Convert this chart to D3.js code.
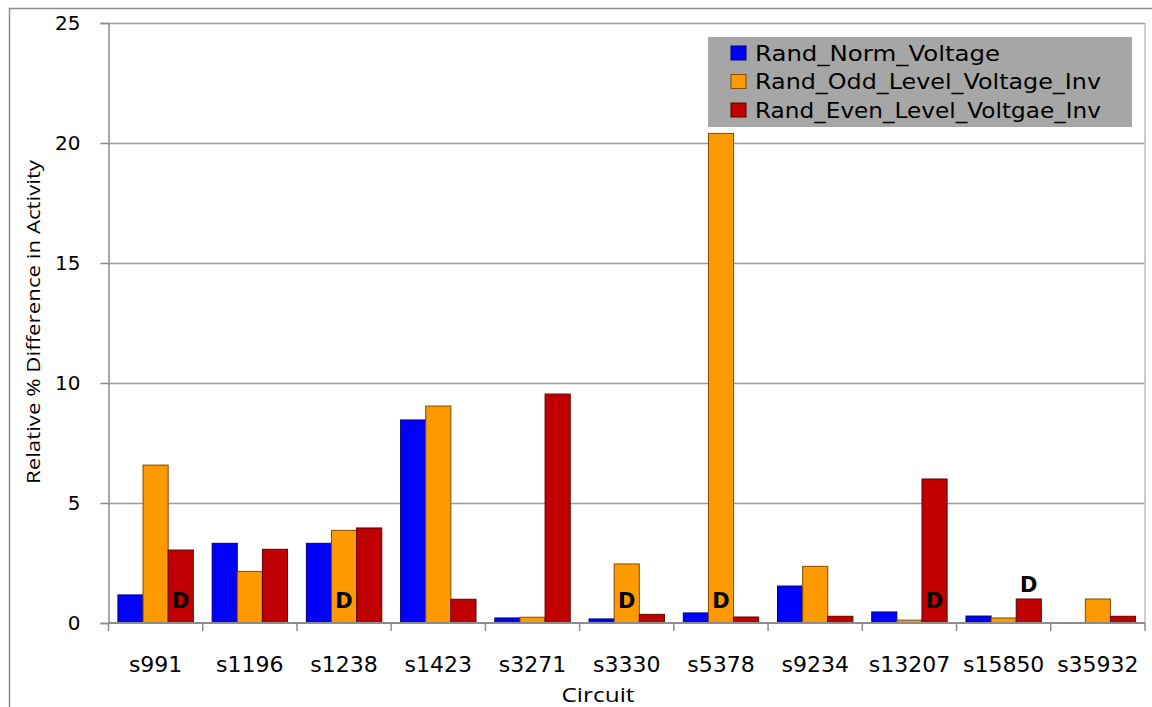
<!DOCTYPE html>
<html>
<head>
<meta charset="utf-8">
<script src="https://cdn.jsdelivr.net/npm/d3@7"></script>
<style>
  html, body { margin: 0; padding: 0; background: #fff; }
  svg { display: block; }
</style>
</head>
<body>
<svg id="chart" width="1152" height="707"></svg>
<script>
// Circuits on the x axis
const circuits = ["s991", "s1196", "s1238", "s1423", "s3271", "s3330", "s5378", "s9234", "s13207", "s15850", "s35932"];

// Series names
const seriesNames = ["Rand_Norm_Voltage", "Rand_Odd_Level_Voltage_Inv", "Rand_Even_Level_Voltgae_Inv"];

// Relative % difference in activity per circuit, one array per series
const randNormVoltage   = [1.17, 3.32, 3.32, 8.46, 0.21, 0.17, 0.42, 1.54, 0.46, 0.29, 0];
const randOddLevelInv   = [6.58, 2.15, 3.86, 9.04, 0.24, 2.46, 20.4, 2.36, 0.12, 0.21, 1.0];
const randEvenLevelInv  = [3.04, 3.07, 3.96, 0.99, 9.54, 0.36, 0.25, 0.28, 6.0, 1.0, 0.28];

// Y tick values
const yTicks = [0, 5, 10, 15, 20, 25];

// "D" markers: [circuit, series index]
const dMarks = [["s991", 2], ["s1238", 1], ["s3330", 1], ["s5378", 1], ["s13207", 2], ["s15850", 2]];

const seriesValues = [randNormVoltage, randOddLevelInv, randEvenLevelInv];
const fills   = ["#0000ff", "#ff9900", "#c00000"];
const strokes = ["#00007a", "#7f4c00", "#600000"];

const svg = d3.select("#chart");

// Outer chart frame
svg.append("rect")
  .attr("x", 9.5).attr("y", 8.5)
  .attr("width", 1160).attr("height", 720)
  .attr("fill", "none").attr("stroke", "#8c8c8c").attr("stroke-width", 1.5);

const plot = { left: 108.5, right: 1145, top: 23, bottom: 623 };

const x = d3.scaleBand()
  .domain(circuits)
  .range([plot.left, plot.right])
  .paddingInner(0).paddingOuter(0);

const barW = x.bandwidth() / (3 + 0.75);
const xs = d3.scaleBand()
  .domain(d3.range(3))
  .range([x.bandwidth() * 0.1, x.bandwidth() * 0.1 + barW * 3]);

const y = d3.scaleLinear().domain([0, 25]).range([plot.bottom, plot.top]);

// Horizontal gridlines
svg.append("g")
  .selectAll("line")
  .data(yTicks.filter(d => d > 0))
  .join("line")
  .attr("x1", plot.left).attr("x2", plot.right)
  .attr("y1", d => Math.round(y(d)) + 0.5).attr("y2", d => Math.round(y(d)) + 0.5)
  .attr("stroke", "#9e9e9e").attr("stroke-width", 1.5);

// Right border of the plot area
svg.append("line")
  .attr("x1", plot.right).attr("x2", plot.right)
  .attr("y1", y(25)).attr("y2", plot.bottom)
  .attr("stroke", "#bdbdbd").attr("stroke-width", 1.5);

// Bars
const groups = svg.append("g")
  .selectAll("g")
  .data(circuits)
  .join("g")
  .attr("transform", c => `translate(${x(c)},0)`);

groups.selectAll("rect")
  .data((c, i) => seriesValues.map((vals, s) => ({ s, v: vals[i] })))
  .join("rect")
  .filter(d => d.v > 0)
  .attr("x", d => xs(d.s))
  .attr("y", d => y(d.v))
  .attr("width", xs.bandwidth())
  .attr("height", d => y(0) - y(d.v))
  .attr("fill", d => fills[d.s])
  .attr("stroke", d => strokes[d.s])
  .attr("stroke-width", 1);

// Y axis
const yAxis = svg.append("g")
  .attr("transform", `translate(${plot.left},0)`)
  .call(d3.axisLeft(y).tickValues(yTicks).tickSize(8).tickPadding(20));
yAxis.select(".domain").attr("stroke", "#8c8c8c").attr("stroke-width", 1.5);
yAxis.selectAll(".tick line").attr("stroke", "#8c8c8c").attr("stroke-width", 1.5);
yAxis.selectAll(".tick text")
  .attr("font-family", "DejaVu Sans, Verdana, sans-serif")
  .attr("font-size", 20).attr("fill", "#000");

// X axis with ticks between categories
const xAxis = svg.append("g")
  .attr("transform", `translate(0,${plot.bottom})`);
xAxis.append("line")
  .attr("x1", plot.left).attr("x2", plot.right)
  .attr("y1", 0).attr("y2", 0)
  .attr("stroke", "#8c8c8c").attr("stroke-width", 2);
xAxis.selectAll("line.tk")
  .data(circuits.concat(["_end"]))
  .join("line")
  .attr("class", "tk")
  .attr("x1", (c, i) => i < circuits.length ? x(c) : plot.right)
  .attr("x2", (c, i) => i < circuits.length ? x(c) : plot.right)
  .attr("y1", 0).attr("y2", 8)
  .attr("stroke", "#8c8c8c").attr("stroke-width", 1.5);
xAxis.selectAll("text")
  .data(circuits)
  .join("text")
  .attr("x", c => x(c) + x.bandwidth() / 2)
  .attr("y", 49)
  .attr("text-anchor", "middle")
  .attr("font-family", "DejaVu Sans, Verdana, sans-serif")
  .attr("font-size", 22)
  .attr("fill", "#000")
  .text(c => c);

// "D" markers
svg.append("g")
  .selectAll("text")
  .data(dMarks)
  .join("text")
  .attr("x", d => x(d[0]) + xs(d[1]) + xs.bandwidth() / 2)
  .attr("y", d => {
    const v = seriesValues[d[1]][circuits.indexOf(d[0])];
    const top = y(v);
    return (y(0) - top) > 32 ? y(0) - 15 : top - 7;
  })
  .attr("text-anchor", "middle")
  .attr("font-family", "DejaVu Sans, Verdana, sans-serif")
  .attr("font-weight", "bold")
  .attr("font-size", 21)
  .attr("fill", "#000")
  .text("D");

// Axis titles
svg.append("text")
  .attr("transform", `translate(40,322) rotate(-90)`)
  .attr("text-anchor", "middle")
  .attr("font-family", "Open Sans, Liberation Sans, sans-serif")
  .attr("font-size", 19)
  .attr("textLength", 324).attr("lengthAdjust", "spacingAndGlyphs")
  .attr("fill", "#000")
  .text("Relative % Difference in Activity");

svg.append("text")
  .attr("x", 598).attr("y", 702)
  .attr("text-anchor", "middle")
  .attr("font-family", "Open Sans, Liberation Sans, sans-serif")
  .attr("font-size", 20)
  .attr("textLength", 73).attr("lengthAdjust", "spacingAndGlyphs")
  .attr("fill", "#000")
  .text("Circuit");

// Legend
const legend = svg.append("g");
legend.append("rect")
  .attr("x", 708).attr("y", 37)
  .attr("width", 424).attr("height", 90)
  .attr("fill", "#a6a6a6");
const legendRowY = d3.scalePoint().domain(d3.range(3)).range([53, 110]);
const legendLengths = [245, 346, 346];
const li = legend.selectAll("g.item")
  .data(seriesNames)
  .join("g")
  .attr("class", "item")
  .attr("transform", (d, i) => `translate(731,${legendRowY(i)})`);
li.append("rect")
  .attr("x", 0).attr("y", -7)
  .attr("width", 15).attr("height", 14)
  .attr("fill", (d, i) => fills[i])
  .attr("stroke", (d, i) => strokes[i]).attr("stroke-width", 1);
li.append("text")
  .attr("x", 24).attr("y", 7.5)
  .attr("font-family", "DejaVu Sans, Verdana, sans-serif")
  .attr("font-size", 20.5)
  .attr("textLength", (d, i) => legendLengths[i]).attr("lengthAdjust", "spacingAndGlyphs")
  .attr("fill", "#000")
  .text(d => d);
</script>
</body>
</html>
